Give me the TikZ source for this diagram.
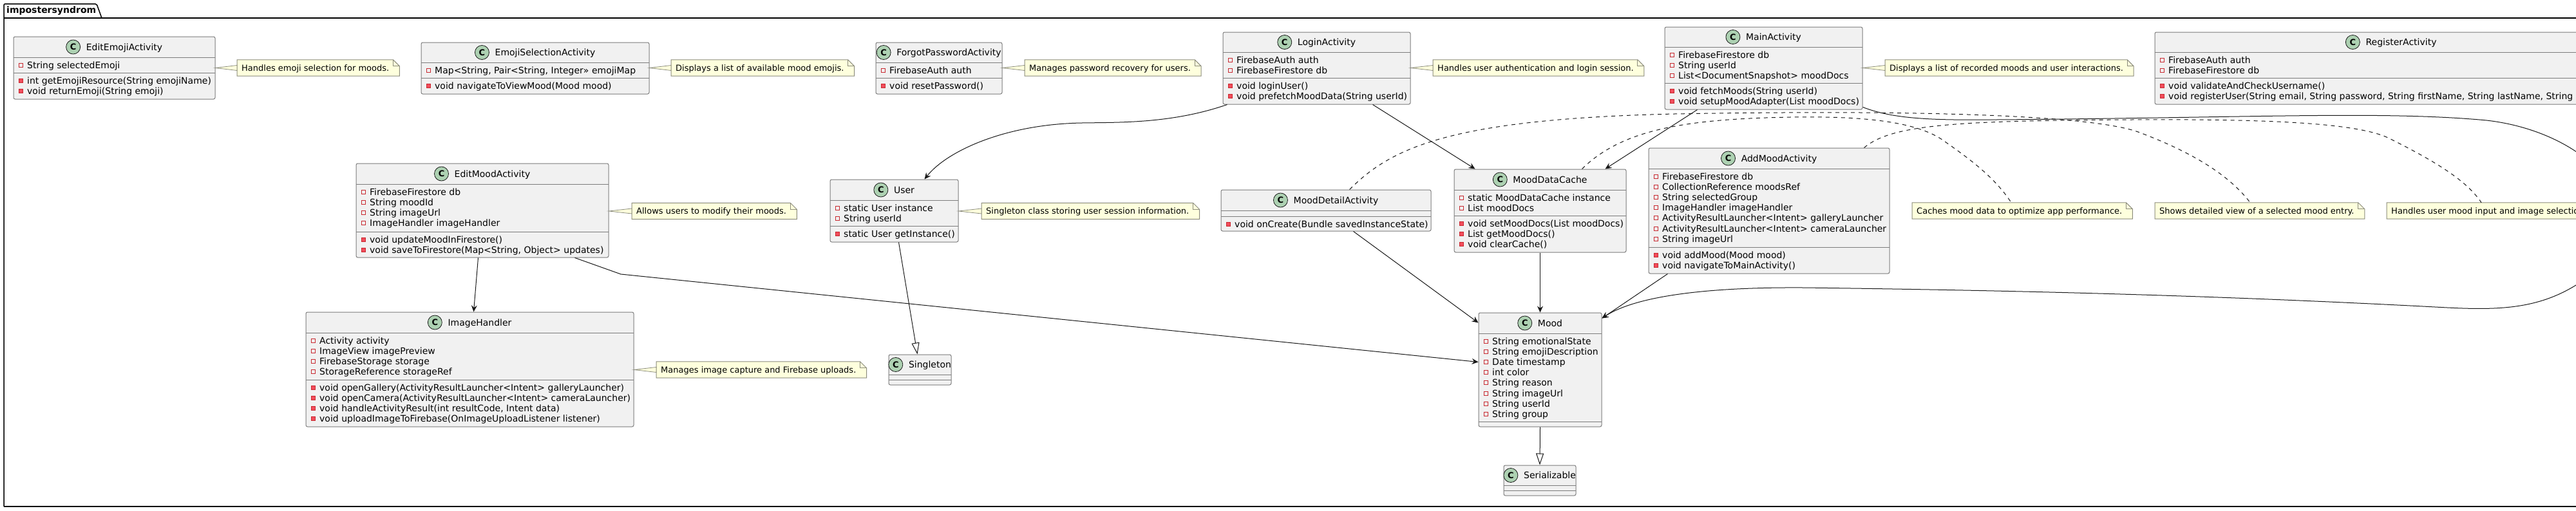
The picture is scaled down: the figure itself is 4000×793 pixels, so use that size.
\documentclass[tikz,border=0pt]{standalone}
\usepackage{fontspec}
\setmainfont{DejaVu Sans}
\usetikzlibrary{arrows.meta,fit,calc}
\definecolor{classbg}{HTML}{F1F1F1}
\definecolor{classbd}{HTML}{7C7C7C}
\definecolor{notebg}{HTML}{FEFFDD}
\definecolor{notebd}{HTML}{8C8C7C}
\definecolor{iconbg}{HTML}{ADD1B2}
\definecolor{privline}{HTML}{C82930}
\definecolor{privfill}{HTML}{F24D5C}
\definecolor{ink}{HTML}{181818}
\tikzset{
  classbox/.style={draw=classbd, line width=1pt, fill=classbg, rounded corners=2.5pt, inner sep=0pt},
  divline/.style={draw=classbd, line width=1pt},
  titletext/.style={inner sep=0pt, anchor=center, font=\fontsize{14pt}{16pt}\selectfont, text height=10.5pt, text depth=0.5pt},
  cicon/.style={circle, draw=ink, line width=0.8pt, fill=iconbg, minimum size=22pt, inner sep=0pt, font=\fontsize{13pt}{13pt}\selectfont\bfseries},
  mtext/.style={anchor=west, inner sep=0pt, font=\fontsize{14pt}{16pt}\selectfont, text height=10.5pt, text depth=0.5pt},
  ficon/.style={rectangle, draw=privline, line width=0.8pt, fill=none, minimum size=6pt, inner sep=0pt},
  micon/.style={rectangle, draw=privline, line width=0.8pt, fill=privfill, minimum size=6pt, inner sep=0pt},
  notestyle/.style={anchor=west, fill=notebg, inner sep=0pt, minimum height=25pt, font=\fontsize{13pt}{15pt}\selectfont, text height=9.5pt, text depth=0.5pt},
  notebdline/.style={draw=notebd, line width=1pt},
  conn/.style={draw=ink, line width=1pt, -{Stealth[length=10pt,width=9pt,inset=3.5pt]}},
  inherit/.style={draw=ink, line width=1pt, -{Triangle[open,length=18pt,width=12pt,fill=white]}},
  notedash/.style={draw=ink, line width=1pt, dash pattern=on 6pt off 6pt},
  pkgframe/.style={draw=black, line width=1.5pt},
}
\newcommand{\umlclass}[8]{%
  \node[classbox, fit={(#2,#3) (#4,#7)}] (#1) {};
  \draw[divline] (#2,#5) -- (#4,#5);
  \draw[divline] (#2,#6) -- (#4,#6);
  \node[titletext] (#1-title) at ({(#2+#4)/2},{(#3+#5)/2}) {\hspace*{31pt}#8};
  \node[cicon] (#1-icon) at ([xshift=11pt]#1-title.west) {C};
}
\newcommand{\members}[5]{%
  \foreach \t [count=\i from 0] in {#5} {%
    \pgfmathsetmacro{\yy}{#3+12+16.2*\i}%
    \node[#4icon] (#1-#4\i-ic) at ({#2+11.5},\yy) {};
    \node[mtext] (#1-#4\i) at ({#2+21},\yy) {\t};
  }%
}
\newcommand{\umlnote}[4]{%
  \node[notestyle] (#1) at (#2,#3) {\hspace*{7pt}#4\hspace*{16pt}};
  \fill[white] ([xshift=-10pt]#1.north east) -- ([xshift=1pt,yshift=1pt]#1.north east) -- ([yshift=-10pt]#1.north east) -- cycle;
  \draw[notebdline] (#1.north west) -- ([xshift=-10pt]#1.north east) -- ([yshift=-10pt]#1.north east) -- (#1.south east) -- (#1.south west) -- cycle;
  \draw[notebdline] ([xshift=-10pt]#1.north east) |- ([yshift=-10pt]#1.north east);
}
\newcommand{\notelink}[2]{%
  \filldraw[fill=notebg, draw=notebd, line width=0.8pt] (#1.east |- #2.west) -- ([yshift=4pt]#2.west) -- ([yshift=-4pt]#2.west) -- cycle;
}
\begin{document}
\begin{tikzpicture}[x=1pt,y=-1pt]
\useasboundingbox (0,0) rectangle (4000,793);
\fill[white] (0,0) rectangle (4000,793);
% package frame
\draw[pkgframe, rounded corners=2pt] (6,787) -- (6,6) -- (150,6) -- (158,28);
\draw[pkgframe] (6,28) -- (4120,28);
\draw[pkgframe] (6,787) -- (4120,787);
\node[anchor=west, inner sep=0pt, font=\fontsize{14pt}{16pt}\selectfont\bfseries] (pkg) at (10,17) {impostersyndrom};

% classes
\umlclass{editEmoji}{21}{57}{334}{89}{113}{154}{EditEmojiActivity}
\members{editEmoji}{21}{89}{f}{String selectedEmoji}
\members{editEmoji}{21}{113}{m}{{int getEmojiResource(String emojiName)},{void returnEmoji(String emoji)}}

\umlclass{emojiSel}{654}{66}{1008}{97}{121}{146}{EmojiSelectionActivity}
\members{emojiSel}{654}{97}{f}{{Map<String, Pair<String, Integer>> emojiMap}}
\members{emojiSel}{654}{121}{m}{void navigateToViewMood(Mood mood)}

\umlclass{forgot}{1360}{66}{1556}{97}{121}{146}{ForgotPasswordActivity}
\members{forgot}{1360}{97}{f}{FirebaseAuth auth}
\members{forgot}{1360}{121}{m}{void resetPassword()}

\umlclass{login}{1899}{50}{2190}{81}{121}{162}{LoginActivity}
\members{login}{1899}{81}{f}{FirebaseAuth auth,FirebaseFirestore db}
\members{login}{1899}{121}{m}{void loginUser(),void prefetchMoodData(String userId)}

\umlclass{main}{2585}{42}{2892}{73}{129}{170}{MainActivity}
\members{main}{2585}{73}{f}{FirebaseFirestore db,String userId,List<DocumentSnapshot> moodDocs}
\members{main}{2585}{129}{m}{void fetchMoods(String userId),void setupMoodAdapter(List moodDocs)}

\umlclass{register}{3346}{50}{4080}{81}{121}{162}{RegisterActivity}
\members{register}{3346}{81}{f}{FirebaseAuth auth,FirebaseFirestore db}
\members{register}{3346}{121}{m}{void validateAndCheckUsername(),{void registerUser(String email, String password, String firstName, String lastName, String username)}}

\umlclass{editMood}{553}{254}{945}{286}{360}{400}{EditMoodActivity}
\members{editMood}{553}{286}{f}{FirebaseFirestore db,String moodId,String imageUrl,ImageHandler imageHandler}
\members{editMood}{553}{360}{m}{void updateMoodInFirestore(),{void saveToFirestore(Map<String, Object> updates)}}

\umlclass{user}{1289}{279}{1488}{311}{351}{376}{User}
\members{user}{1289}{311}{f}{static User instance,String userId}
\members{user}{1289}{351}{m}{static User getInstance()}

\umlclass{moodDetail}{1896}{295}{2222}{327}{336}{359}{MoodDetailActivity}
\members{moodDetail}{1896}{336}{m}{void onCreate(Bundle savedInstanceState)}

\umlclass{cache}{2258}{263}{2525}{295}{335}{392}{MoodDataCache}
\members{cache}{2258}{295}{f}{static MoodDataCache instance,List moodDocs}
\members{cache}{2258}{335}{m}{void setMoodDocs(List moodDocs),List getMoodDocs(),void clearCache()}

\umlclass{addMood}{2560}{230}{2934}{262}{384}{425}{AddMoodActivity}
\members{addMood}{2560}{262}{f}{FirebaseFirestore db,CollectionReference moodsRef,String selectedGroup,ImageHandler imageHandler,ActivityResultLauncher<Intent> galleryLauncher,ActivityResultLauncher<Intent> cameraLauncher,String imageUrl}
\members{addMood}{2560}{384}{m}{void addMood(Mood mood),void navigateToMainActivity()}

\umlclass{imageHandler}{475}{485}{984}{517}{590}{663}{ImageHandler}
\members{imageHandler}{475}{517}{f}{Activity activity,ImageView imagePreview,FirebaseStorage storage,StorageReference storageRef}
\members{imageHandler}{475}{590}{m}{{void openGallery(ActivityResultLauncher<Intent> galleryLauncher)},{void openCamera(ActivityResultLauncher<Intent> cameraLauncher)},{void handleActivityResult(int resultCode, Intent data)},{void uploadImageToFirebase(OnImageUploadListener listener)}}

\umlclass{mood}{2296}{486}{2487}{518}{655}{663}{Mood}
\members{mood}{2296}{518}{f}{String emotionalState,String emojiDescription,Date timestamp,int color,String reason,String imageUrl,String userId,String group}

\umlclass{singleton}{1380}{551}{1477}{582}{590}{598}{Singleton}
\umlclass{serializable}{2335}{723}{2447}{754}{762}{770}{Serializable}

% notes
\umlnote{nEditEmoji}{368}{105.5}{Handles emoji selection for moods.}
\notelink{editEmoji}{nEditEmoji}
\umlnote{nEmojiSel}{1042}{105.5}{Displays a list of available mood emojis.}
\notelink{emojiSel}{nEmojiSel}
\umlnote{nForgot}{1591}{105.5}{Manages password recovery for users.}
\notelink{forgot}{nForgot}
\umlnote{nLogin}{2225}{105.5}{Handles user authentication and login session.}
\notelink{login}{nLogin}
\umlnote{nMain}{2927}{105.5}{Displays a list of recorded moods and user interactions.}
\notelink{main}{nMain}
\umlnote{nEditMood}{981}{328}{Allows users to modify their moods.}
\notelink{editMood}{nEditMood}
\umlnote{nUser}{1524}{328}{Singleton class storing user session information.}
\notelink{user}{nUser}
\umlnote{nImage}{1019}{574.5}{Manages image capture and Firebase uploads.}
\notelink{imageHandler}{nImage}
\umlnote{nCache}{2969}{327.5}{Caches mood data to optimize app performance.}
\umlnote{nDetail}{3346}{327.5}{Shows detailed view of a selected mood entry.}
\umlnote{nAdd}{3706}{327.5}{Handles user mood input and image selection.}

% connectors
\draw[conn] ([xshift=7pt]login.south west) .. controls (1820,192) and (1740,190) .. (1680,191) .. controls (1560,193) and (1470,235) .. ([xshift=147pt]user.north west);
\draw[conn] ([xshift=233pt]login.south west) -- ([xshift=33pt]cache.north west);
\draw[conn] ([xshift=51pt]main.south west) -- ([xshift=235pt]cache.north west);
\draw[conn] ([yshift=4pt]main.south east) .. controls (2940,185) and (3000,187) .. (3100,186) .. controls (3500,183) and (3700,172) .. (3861,187) .. controls (4020,205) and (4150,330) .. (4000,443) .. controls (3940,480) and (3880,482) .. (3800,478) .. controls (3500,462) and (3200,452) .. (2800,447) .. controls (2650,446) and (2540,460) .. ([yshift=-9pt]mood.north east);
\draw[conn] ([xshift=190pt]editMood.south west) -- ([xshift=261pt]imageHandler.north west);
\draw[conn] ([xshift=340pt]editMood.south west) -- (964,426) -- ([yshift=-77pt]mood.north west);
\draw[inherit] ([xshift=107pt]user.south west) -- ([xshift=45pt]singleton.north west);
\draw[conn] ([xshift=206pt]moodDetail.south west) -- ([yshift=-16pt]mood.north west);
\draw[conn] (cache.south) -- (mood.north);
\draw[conn] ([xshift=30pt]addMood.south west) -- ([yshift=-9pt]mood.north east);
\draw[inherit] (mood.south) -- (serializable.north);

% dashed note links
\draw[notedash] ([xshift=200pt]moodDetail.north west) .. controls (2160,230) and (2250,185) .. (2600,177) .. controls (3000,170) and (3250,180) .. (3320,205) .. controls (3400,235) and (3460,270) .. ([xshift=148pt]nDetail.north west);
\draw[notedash] ([xshift=199pt]cache.north west) .. controls (2520,200) and (2620,185) .. (2780,182) .. controls (2900,180) and (2980,190) .. (3020,220) .. controls (3070,255) and (3100,280) .. ([xshift=154pt]nCache.north west);
\draw[notedash] ([xshift=335pt]addMood.north west) .. controls (2930,200) and (3000,190) .. (3200,187) .. controls (3450,184) and (3650,185) .. (3710,215) .. controls (3780,250) and (3830,280) .. ([xshift=147pt]nAdd.north west);
\end{tikzpicture}
\end{document}
